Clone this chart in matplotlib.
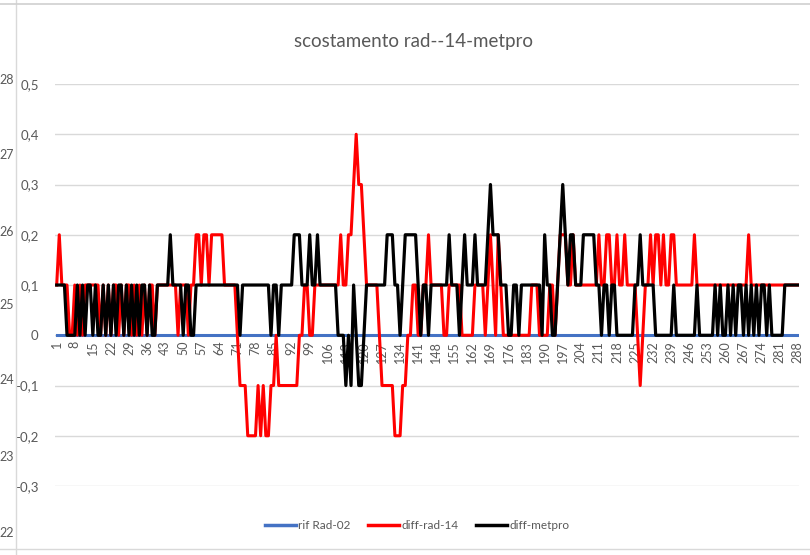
import numpy as np
import matplotlib
matplotlib.use("Agg")
import matplotlib.pyplot as plt
from matplotlib.lines import Line2D

# values in tenths, one row per 10 points (1..288)
diff_rad_14 = [
    1, 2, 1, 1, 1, 0, 0, 1, 0, 1,
    0, 1, 1, 1, 1, 1, 1, 0, 1, 0,
    1, 0, 1, 1, 0, 1, 0, 1, 1, 0,
    1, 0, 1, 0, 1, 0, 1, 1, 0, 1,
    1, 1, 1, 1, 1, 1, 1, 0, 1, 1,
    1, 0, 1, 1, 2, 2, 1, 2, 2, 1,
    2, 2, 2, 2, 2, 1, 1, 1, 1, 1,
    0, -1, -1, -1, -2, -2, -2, -2, -1, -2,
    -1, -2, -2, -1, -1, 0, -1, -1, -1, -1,
    -1, -1, -1, -1, 0, 0, 1, 1, 0, 0,
    1, 1, 1, 1, 1, 1, 1, 1, 1, 1,
    2, 1, 1, 2, 2, 3, 4, 3, 3, 2,
    1, 1, 1, 1, 1, 0, -1, -1, -1, -1,
    -1, -2, -2, -2, -1, -1, 0, 0, 1, 1,
    0, 0, 1, 1, 2, 1, 1, 1, 1, 1,
    0, 0, 1, 1, 1, 1, 1, 0, 0, 0,
    0, 0, 1, 1, 1, 1, 0, 1, 2, 1,
    0, 2, 1, 0, 0, 0, 0, 0, 0, 0,
    0, 0, 0, 0, 1, 1, 1, 0, 0, 0,
    0, 1, 1, 0, 1, 2, 2, 2, 1, 1,
    2, 1, 1, 1, 1, 1, 1, 1, 1, 1,
    2, 1, 1, 2, 2, 1, 1, 2, 1, 1,
    2, 1, 1, 1, 1, 0, -1, 0, 1, 1,
    2, 1, 2, 2, 1, 2, 1, 1, 2, 2,
    1, 1, 1, 1, 1, 1, 1, 2, 1, 1,
    1, 1, 1, 1, 1, 1, 1, 1, 1, 1,
    1, 1, 1, 1, 1, 1, 1, 1, 2, 1,
    1, 1, 1, 1, 1, 1, 1, 1, 1, 1,
    1, 1, 1, 1, 1, 1, 1, 1,
]

diff_metpro = [
    1, 1, 1, 1, 0, 0, 0, 0, 1, 0,
    1, 0, 1, 1, 0, 1, 0, 0, 1, 0,
    1, 0, 1, 0, 1, 1, 0, 1, 0, 1,
    0, 1, 0, 1, 1, 0, 1, 0, 0, 1,
    1, 1, 1, 1, 2, 1, 1, 1, 1, 0,
    1, 1, 0, 0, 1, 1, 1, 1, 1, 1,
    1, 1, 1, 1, 1, 1, 1, 1, 1, 1,
    1, 0, 1, 1, 1, 1, 1, 1, 1, 1,
    1, 1, 1, 0, 1, 1, 0, 1, 1, 1,
    1, 1, 2, 2, 2, 1, 1, 1, 2, 1,
    1, 2, 1, 1, 1, 1, 1, 1, 1, 0,
    0, 0, -1, 0, -1, 1, 0, -1, -1, 0,
    1, 1, 1, 1, 1, 1, 1, 1, 2, 2,
    2, 1, 1, 0, 1, 2, 2, 2, 2, 2,
    1, 0, 1, 1, 0, 1, 1, 1, 1, 1,
    1, 1, 2, 1, 1, 1, 0, 1, 2, 1,
    1, 1, 2, 1, 1, 1, 1, 2, 3, 2,
    2, 2, 1, 1, 1, 0, 0, 1, 1, 0,
    1, 1, 1, 1, 1, 1, 1, 1, 0, 2,
    1, 1, 0, 0, 1, 2, 3, 2, 1, 2,
    2, 1, 1, 1, 2, 2, 2, 2, 2, 1,
    1, 0, 1, 1, 0, 1, 1, 0, 0, 0,
    0, 0, 0, 0, 1, 1, 2, 1, 1, 1,
    1, 1, 0, 0, 0, 0, 0, 0, 0, 1,
    0, 0, 0, 0, 0, 0, 0, 0, 1, 0,
    0, 0, 0, 0, 0, 1, 0, 1, 0, 0,
    1, 0, 1, 0, 1, 1, 0, 1, 0, 1,
    0, 1, 0, 1, 1, 0, 1, 0, 0, 0,
    0, 0, 1, 1, 1, 1, 1, 1,
]

n_points = len(diff_rad_14)
x = np.arange(1, n_points + 1)
rif_rad_02 = np.zeros(n_points)
red = np.array(diff_rad_14) / 10
black = np.array(diff_metpro) / 10

y_ticks = [-0.3, -0.2, -0.1, 0, 0.1, 0.2, 0.3, 0.4, 0.5]
side_labels = ["28", "27", "26", "25", "24", "23", "22"]
side_label_y = [80, 155, 232, 305, 380, 457, 533]  # pixel rows of the cut-off neighbour axis

grey = "#595959"
plt.rcParams['font.family'] = ['Lato', 'DejaVu Sans']

fig = plt.figure(figsize=(8.1, 5.55), dpi=100)
ax = fig.add_axes([0.0684, 0.1243, 0.918, 0.7243])

ax.plot(x, rif_rad_02, color="#4472C4", lw=2.2, label="rif Rad-02", solid_joinstyle="round")
ax.plot(x, red, color="#FF0000", lw=2.2, label="diff-rad-14", solid_joinstyle="round")
ax.plot(x, black, color="#000000", lw=2.3, label="diff-metpro", solid_joinstyle="round")

ax.set_xlim(0.5, n_points + 0.5)
ax.set_ylim(-0.3, 0.5)

# move the category axis to y = 0 first (this resets the ticks)
ax.spines['bottom'].set_position(('data', 0))
for s in ['top', 'right', 'left', 'bottom']:
    ax.spines[s].set_visible(False)

ax.set_yticks(y_ticks)
ax.set_yticklabels([("%g" % v).replace(".", ",") for v in y_ticks], color=grey, fontsize=9.5)
ax.yaxis.grid(True, color="#d9d9d9", lw=1)
ax.set_axisbelow(True)

ax.set_xticks(x[::7])
ax.set_xticklabels([str(v) for v in x[::7]], color=grey, fontsize=9)
ax.tick_params(axis='both', length=0)
ax.tick_params(axis='y', pad=12)
ax.tick_params(axis='x', pad=4, labelrotation=90)

fig.text(0.51, 0.925, "scostamento rad--14-metpro", ha="center", va="center",
         fontsize=13.5, color=grey)

handles = [Line2D([], [], color=c, lw=2.5) for c in ["#4472C4", "#FF0000", "#000000"]]
leg = fig.legend(handles, ["rif Rad-02", "diff-rad-14", "diff-metpro"], loc="center",
                 bbox_to_anchor=(0.515, 0.053), ncol=3, frameon=False, fontsize=8.5,
                 handlelength=2.6, handletextpad=0.2, columnspacing=1.5)
for t in leg.get_texts():
    t.set_color(grey)

# cut-off neighbouring axis on the left edge
for lab, py in zip(side_labels, side_label_y):
    fig.text(14 / 810, 1 - py / 555, lab, ha="right", va="center", fontsize=9, color=grey)
fig.add_artist(Line2D([16 / 810, 16 / 810], [0.0, 1.0], color="#d9d9d9", lw=1))
fig.add_artist(Line2D([0, 1], [1 - 4 / 555, 1 - 4 / 555], color="#d0d0d0", lw=1.2))
fig.add_artist(Line2D([0, 1], [1 - 549 / 555, 1 - 549 / 555], color="#d9d9d9", lw=1))

fig.savefig("out.png", dpi=100)
